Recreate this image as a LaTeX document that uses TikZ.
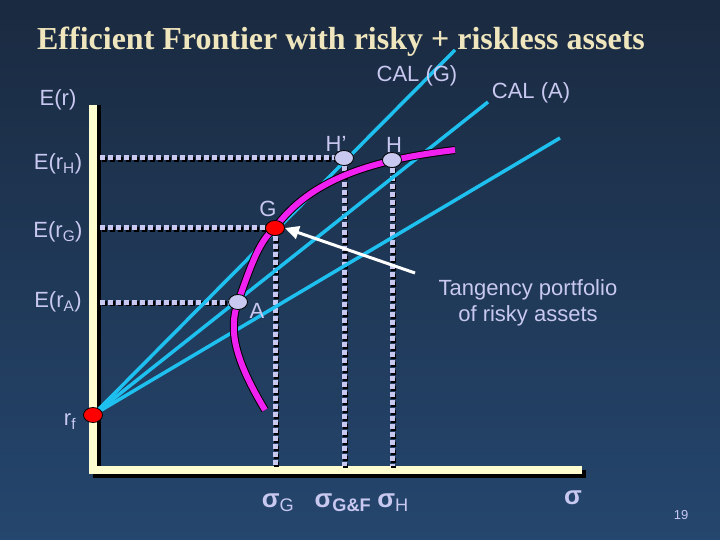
\documentclass[tikz,border=0pt]{standalone}
\usepackage{fontspec}
\setmainfont{Liberation Serif}
\newfontfamily\sansf{Liberation Sans}
\usetikzlibrary{arrows.meta,shapes.geometric}
\definecolor{bgtop}{HTML}{1A2A40}
\definecolor{bgbot}{HTML}{25466E}
\definecolor{lav}{HTML}{C8C8F0}
\definecolor{axisc}{HTML}{FFFDD0}
\definecolor{titc}{HTML}{F0E6BE}
\definecolor{cyanl}{HTML}{1EC0F0}
\definecolor{mag}{HTML}{F020F0}
\tikzset{
  lbl/.style={text=lav,font=\sansf\fontsize{22}{26}\selectfont,inner sep=0pt},
  sig/.style={text=lav,font=\sansf\bfseries\fontsize{26}{28}\selectfont,inner sep=0pt},
  dotl/.style={lav,line width=5pt,dash pattern=on 5pt off 3pt},
  dotsh/.style={black,line width=5pt,dash pattern=on 5pt off 3pt},
  cal/.style={cyanl,line width=3.5pt},
  ptw/.style={ellipse,draw=black,fill=lav,line width=0.8pt,minimum width=19pt,minimum height=15pt,inner sep=0pt},
  ptr/.style={ellipse,draw=black,fill=red,line width=0.8pt,minimum width=19pt,minimum height=15pt,inner sep=0pt}
}
\begin{document}
\begin{tikzpicture}[x=1pt,y=-1pt]
\shade[top color=bgtop,bottom color=bgbot] (0,0) rectangle (720,540);
\useasboundingbox (0,0) rectangle (720,540);
\node[text=titc,font=\bfseries\fontsize{32}{36}\selectfont] (title) at (341,42) {Efficient Frontier with risky + riskless assets};
% coordinates
\coordinate (rf) at (93,415);
\coordinate (A) at (238,302);
\coordinate (G) at (275,228);
\coordinate (Hp) at (344,158);
\coordinate (H) at (392,160);
% axes
\fill[black] (97,105) rectangle (101,474);
\fill[black] (93,470) rectangle (586,478);
\fill[axisc] (89,105) rectangle (97,470);
\fill[axisc] (89,466) rectangle (582,474);
% dotted guides
\foreach \a/\b in {{(100,158)}/{(344,158)},{(100,228)}/{(275,228)},{(100,302)}/{(238,302)},{(275,228)}/{(275,466)},{(344,158)}/{(344,466)},{(392,160)}/{(392,466)}}{
  \draw[dotsh,transform canvas={xshift=1.5pt,yshift=-1.5pt}] \a -- \b;
  \draw[dotl] \a -- \b;}
% CAL lines
\coordinate (cg) at (455,50);
\coordinate (ca) at (488,102);
\coordinate (c3) at (560,138);
\draw[cal] (rf) -- (cg);
\draw[cal] (rf) -- (ca);
\draw[cal] (rf) -- (c3);
% frontier
\draw[black,line width=8pt] (265,410) .. controls (235,360) and (228,330) .. (238,302) .. controls (252,262) and (260,240) .. (275,228) .. controls (310,180) and (370,160) .. (455,150);
\draw[mag,line width=6pt] (265,410) .. controls (235,360) and (228,330) .. (238,302) .. controls (252,262) and (260,240) .. (275,228) .. controls (310,180) and (370,160) .. (455,150);
% points
\node[ptr] (rfp) at (rf) {};
\node[ptw] (Ap) at (A) {};
\node[ptr] (Gp) at (G) {};
\node[ptw] (Hpp) at (Hp) {};
\node[ptw] (Hpt) at (H) {};
% arrow
\coordinate (arrs) at (415,273);
\draw[white,line width=3pt,-{Triangle[length=14pt,width=13pt]}] (arrs) -- (Gp.east);
% labels
\node[lbl] (lEr) at (58,100) {E(r)};
\node[lbl] (lEH) at (58,164) {E(r\textsubscript{H})};
\node[lbl] (lEG) at (58,232) {E(r\textsubscript{G})};
\node[lbl] (lEA) at (58,302) {E(r\textsubscript{A})};
\node[lbl] (lrf) at (70,422) {r\textsubscript{f}};
\node[lbl] (lcg) at (417,76) {CAL (G)};
\node[lbl] (lca) at (531,93) {CAL (A)};
\node[lbl] (lHp) at (336,144) {H’};
\node[lbl] (lH) at (394,145) {H};
\node[lbl] (lG) at (268,209) {G};
\node[lbl] (lA) at (257,311) {A};
\node[lbl,align=center] (ltan) at (528,303) {Tangency portfolio\\of risky assets};
\node[sig] (sG) at (278,503) {σ\textsubscript{\mdseries G}};
\node[sig] (sGF) at (343,503) {σ\textsubscript{G\&F}};
\node[sig] (sH) at (393,503) {σ\textsubscript{\mdseries H}};
\node[sig] (s) at (573,498) {σ};
\node[lbl,font=\sansf\fontsize{13}{15}\selectfont] (pg) at (681,515) {19};
\end{tikzpicture}
\end{document}
